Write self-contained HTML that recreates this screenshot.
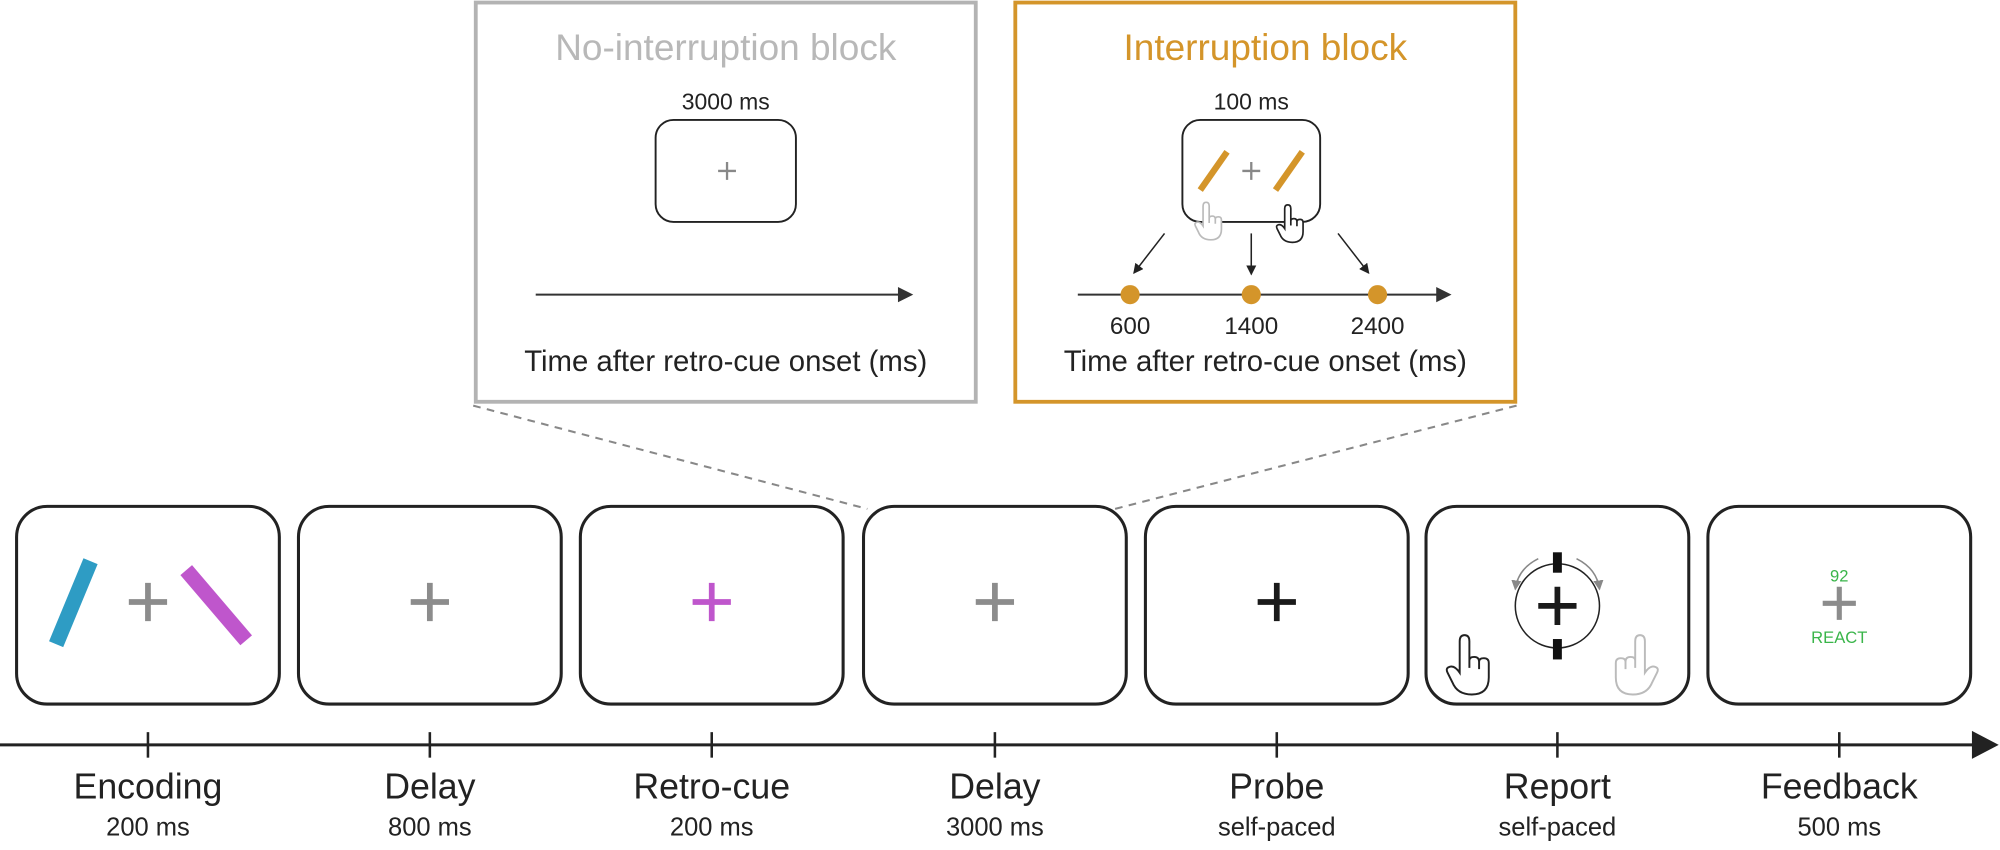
<!DOCTYPE html>
<html><head><meta charset="utf-8"><style>
html,body{margin:0;padding:0;background:#fff;}
svg{display:block;}
text{font-family:"Liberation Sans",sans-serif;}
</style></head><body>
<svg width="2000" height="850" viewBox="0 0 1568 666.4" xmlns="http://www.w3.org/2000/svg">
<defs>
<path id="hand" d="M12 28 L12 6 Q12 1 16 1 Q20 1 20 6 L20 22 Q20 19 24 19 Q28 19 28 23 Q28 20 32 20 Q36 20 36 24 L36 36 Q36 50 22 50 Q10 50 6 40 L2 32 Q0 28 4 27 Q8 26 12 32 Z M20 22 L20 28 M28 23 L28 29"/>
<marker id="ah" markerWidth="8" markerHeight="8" refX="7" refY="4" orient="auto" markerUnits="userSpaceOnUse"><path d="M0 0 L8 4 L0 8 Z" fill="#222"/></marker>
<marker id="ahg" markerWidth="8" markerHeight="8" refX="7" refY="4" orient="auto" markerUnits="userSpaceOnUse"><path d="M0 0 L8 4 L0 8 Z" fill="#888"/></marker>
</defs>

<!-- No-interruption block -->
<rect x="373" y="2" width="392" height="313" fill="none" stroke="#b3b3b3" stroke-width="3"/>
<text x="569" y="47" font-size="29" fill="#b8b8b8" text-anchor="middle">No-interruption block</text>
<text x="569" y="86" font-size="18" fill="#222" text-anchor="middle">3000 ms</text>
<rect x="514" y="94" width="110" height="80" rx="14" fill="none" stroke="#222" stroke-width="1.5"/>
<path d="M563 134 H577 M570 127 V141" stroke="#888" stroke-width="1.8"/>
<line x1="420" y1="231" x2="706" y2="231" stroke="#333" stroke-width="1.6"/>
<path d="M704 225 L716 231 L704 237 Z" fill="#333"/>
<text x="569" y="291" font-size="23" fill="#222" text-anchor="middle">Time after retro-cue onset (ms)</text>

<!-- Interruption block -->
<rect x="796" y="2" width="392" height="313" fill="none" stroke="#d4952a" stroke-width="3"/>
<text x="992" y="47" font-size="29" fill="#d4952a" text-anchor="middle">Interruption block</text>
<text x="981" y="86" font-size="18" fill="#222" text-anchor="middle">100 ms</text>
<rect x="927" y="94" width="108" height="80" rx="14" fill="none" stroke="#222" stroke-width="1.5"/>
<path d="M974 134 H988 M981 127 V141" stroke="#888" stroke-width="1.8"/>
<line x1="941" y1="149" x2="962" y2="119" stroke="#d4952a" stroke-width="5"/>
<line x1="1000" y1="149" x2="1021" y2="119" stroke="#d4952a" stroke-width="5"/>
<use href="#hand" transform="translate(936,158) scale(0.6)" fill="#fff" stroke="#bbb" stroke-width="2.2"/>
<use href="#hand" transform="translate(1000,160) scale(0.6)" fill="#fff" stroke="#222" stroke-width="2.2"/>
<line x1="913" y1="183" x2="889" y2="214" stroke="#222" stroke-width="1.2" marker-end="url(#ah)"/>
<line x1="981" y1="183" x2="981" y2="215" stroke="#222" stroke-width="1.2" marker-end="url(#ah)"/>
<line x1="1049" y1="183" x2="1073" y2="214" stroke="#222" stroke-width="1.2" marker-end="url(#ah)"/>
<line x1="845" y1="231" x2="1128" y2="231" stroke="#333" stroke-width="1.6"/>
<path d="M1126 225 L1138 231 L1126 237 Z" fill="#333"/>
<circle cx="886" cy="231" r="7.5" fill="#d4952a"/>
<circle cx="981" cy="231" r="7.5" fill="#d4952a"/>
<circle cx="1080" cy="231" r="7.5" fill="#d4952a"/>
<text x="886" y="262" font-size="19" fill="#222" text-anchor="middle">600</text>
<text x="981" y="262" font-size="19" fill="#222" text-anchor="middle">1400</text>
<text x="1080" y="262" font-size="19" fill="#222" text-anchor="middle">2400</text>
<text x="992" y="291" font-size="23" fill="#222" text-anchor="middle">Time after retro-cue onset (ms)</text>

<!-- dashed connectors -->
<line x1="371" y1="318" x2="680" y2="399" stroke="#888" stroke-width="1.6" stroke-dasharray="6,5"/>
<line x1="1189" y1="318" x2="874" y2="399" stroke="#888" stroke-width="1.6" stroke-dasharray="6,5"/>

<!-- panels -->
<g fill="none" stroke="#222" stroke-width="2.4">
<rect x="13" y="397" width="206" height="155" rx="24"/>
<rect x="234" y="397" width="206" height="155" rx="24"/>
<rect x="455" y="397" width="206" height="155" rx="24"/>
<rect x="677" y="397" width="206" height="155" rx="24"/>
<rect x="898" y="397" width="206" height="155" rx="24"/>
<rect x="1118" y="397" width="206" height="155" rx="24"/>
<rect x="1339" y="397" width="206" height="155" rx="24"/>
</g>
<!-- encoding -->
<line x1="44" y1="505" x2="71" y2="440" stroke="#2e9cc4" stroke-width="12"/>
<line x1="146" y1="447" x2="193" y2="502" stroke="#bf56cc" stroke-width="12"/>
<path d="M101 472 H131 M116 457 V487" stroke="#8c8c8c" stroke-width="4.5"/>
<path d="M322 472 H352 M337 457 V487" stroke="#8c8c8c" stroke-width="4.5"/>
<path d="M543 472 H573 M558 457 V487" stroke="#bf56cc" stroke-width="4.5"/>
<path d="M765 472 H795 M780 457 V487" stroke="#8c8c8c" stroke-width="4.5"/>
<path d="M986 472 H1016 M1001 457 V487" stroke="#1a1a1a" stroke-width="4.5"/>
<!-- report -->
<circle cx="1221" cy="475" r="33" fill="none" stroke="#222" stroke-width="1.2"/>
<rect x="1217.5" y="433" width="7" height="16" fill="#111"/>
<rect x="1217.5" y="501" width="7" height="16" fill="#111"/>
<path d="M1206 475 H1236 M1221 460 V490" stroke="#1a1a1a" stroke-width="4.5"/>
<path d="M1206 438 Q1190 446 1188 462" fill="none" stroke="#888" stroke-width="1.2" marker-end="url(#ahg)"/>
<path d="M1236 438 Q1252 446 1254 462" fill="none" stroke="#888" stroke-width="1.2" marker-end="url(#ahg)"/>
<use href="#hand" transform="translate(1133,497) scale(0.95)" fill="#fff" stroke="#222" stroke-width="1.6"/>
<use href="#hand" transform="translate(1301,497) scale(-0.95,0.95)" fill="#fff" stroke="#bbb" stroke-width="1.6"/>
<!-- feedback -->
<text x="1442" y="456" font-size="13" fill="#3ab54a" text-anchor="middle">92</text>
<path d="M1429 473 H1455 M1442 460 V486" stroke="#8c8c8c" stroke-width="4"/>
<text x="1442" y="504" font-size="13" fill="#3ab54a" text-anchor="middle">REACT</text>

<!-- timeline -->
<line x1="0" y1="584" x2="1548" y2="584" stroke="#222" stroke-width="2.4"/>
<path d="M1546 573 L1567 584 L1546 595 Z" fill="#222"/>
<g stroke="#222" stroke-width="2">
<line x1="116" y1="574" x2="116" y2="594"/><line x1="337" y1="574" x2="337" y2="594"/>
<line x1="558" y1="574" x2="558" y2="594"/><line x1="780" y1="574" x2="780" y2="594"/>
<line x1="1001" y1="574" x2="1001" y2="594"/><line x1="1221" y1="574" x2="1221" y2="594"/>
<line x1="1442" y1="574" x2="1442" y2="594"/>
</g>
<g font-size="28" fill="#222" text-anchor="middle">
<text x="116" y="626">Encoding</text><text x="337" y="626">Delay</text>
<text x="558" y="626">Retro-cue</text><text x="780" y="626">Delay</text>
<text x="1001" y="626">Probe</text><text x="1221" y="626">Report</text>
<text x="1442" y="626">Feedback</text>
</g>
<g font-size="20" fill="#222" text-anchor="middle">
<text x="116" y="655">200 ms</text><text x="337" y="655">800 ms</text>
<text x="558" y="655">200 ms</text><text x="780" y="655">3000 ms</text>
<text x="1001" y="655">self-paced</text><text x="1221" y="655">self-paced</text>
<text x="1442" y="655">500 ms</text>
</g>
</svg>
</body></html>
